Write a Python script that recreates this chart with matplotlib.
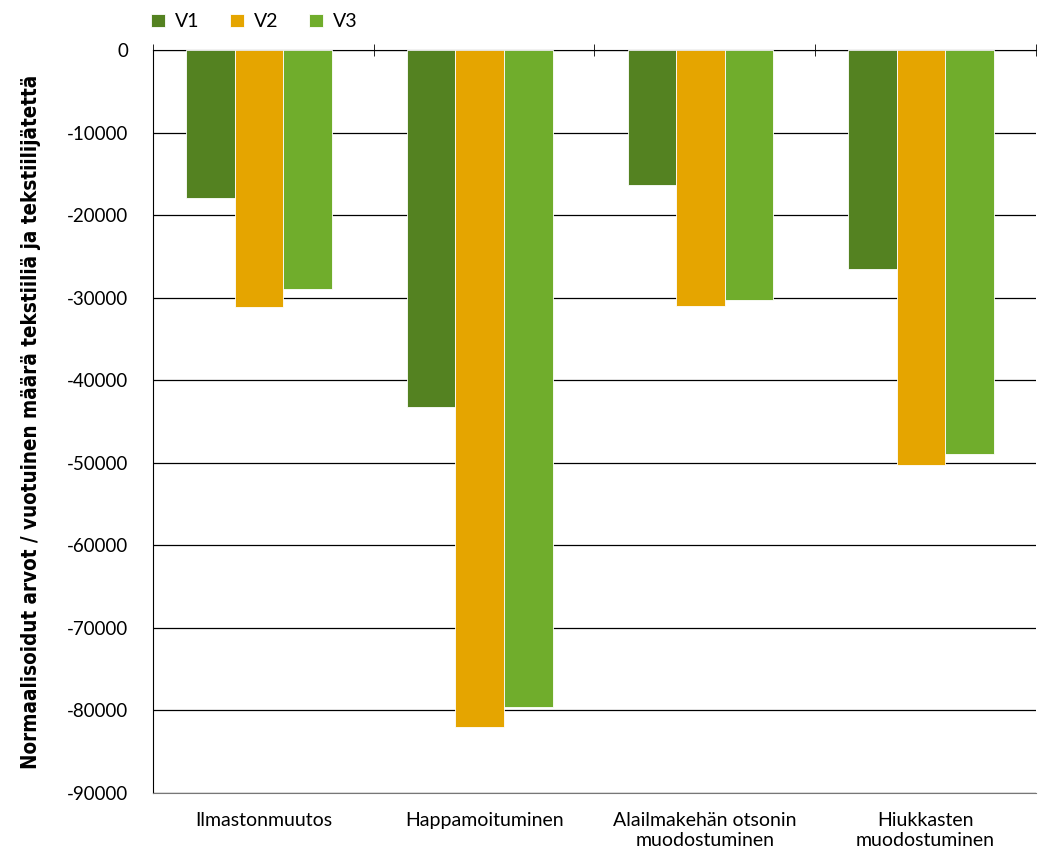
import numpy as np
import matplotlib.pyplot as plt

plt.rcParams['font.family'] = ['Lato', 'DejaVu Sans']
plt.rcParams['axes.unicode_minus'] = False

# vaikutusluokat ja normalisoidut arvot
categories = ['Ilmastonmuutos', 'Happamoituminen',
              'Alailmakehän otsonin\nmuodostuminen', 'Hiukkasten\nmuodostuminen']
v1 = [-17900, -43300, -16400, -26500]
v2 = [-31100, -82000, -31000, -50300]
v3 = [-29000, -79600, -30300, -49000]
series = ['V1', 'V2', 'V3']
colors = ['#548221', '#E5A500', '#70AD2C']
yticks = list(range(-90000, 1, 10000))

fig = plt.figure(figsize=(10.38, 8.57), dpi=100)
ax = fig.add_axes([0.1474, 0.0747, 0.8506, 0.867])

x = np.arange(len(categories))
w = 0.22
for i, (vals, name, c) in enumerate(zip([v1, v2, v3], series, colors)):
    ax.bar(x + (i - 1) * w - 0.02, vals, w, color=c, label=name,
           edgecolor='white', linewidth=0.6, zorder=3)

ax.set_ylim(-90000, 0)
ax.set_xlim(-0.5, len(categories) - 0.5)
ax.set_yticks(yticks)
ax.set_yticklabels([str(t) for t in yticks], fontsize=13.5)
ax.yaxis.grid(True, color='black', linewidth=0.9, zorder=0)
ax.set_axisbelow(True)
ax.tick_params(axis='y', length=0, pad=18)

ax.set_xticks(x)
ax.set_xticklabels(categories, fontsize=14, linespacing=1.2, va='top')
ax.set_xticks(np.arange(len(categories) + 1) - 0.5, minor=True)
ax.tick_params(axis='x', which='major', length=0, pad=14)
ax.tick_params(axis='x', which='minor', bottom=False, top=True,
               direction='inout', length=8, color='black')

ax.spines['right'].set_visible(False)
ax.spines['bottom'].set_color('#777777')
ax.spines['left'].set_color('black')
ax.spines['top'].set_color('black')

ax.set_ylabel('Normaalisoidut arvot / vuotuinen määrä tekstiiliä ja tekstiilijätettä',
              fontsize=14.8, fontweight='bold', fontstretch='condensed',
              family=['DejaVu Sans'])
ax.yaxis.set_label_coords(-0.127, 0.5)

fig.legend(loc='upper left', bbox_to_anchor=(0.129, 1.005), ncol=3,
           frameon=False, fontsize=14, handlelength=0.7, handleheight=0.7,
           handletextpad=0.5, columnspacing=1.6)

fig.savefig('out.png', dpi=100)
